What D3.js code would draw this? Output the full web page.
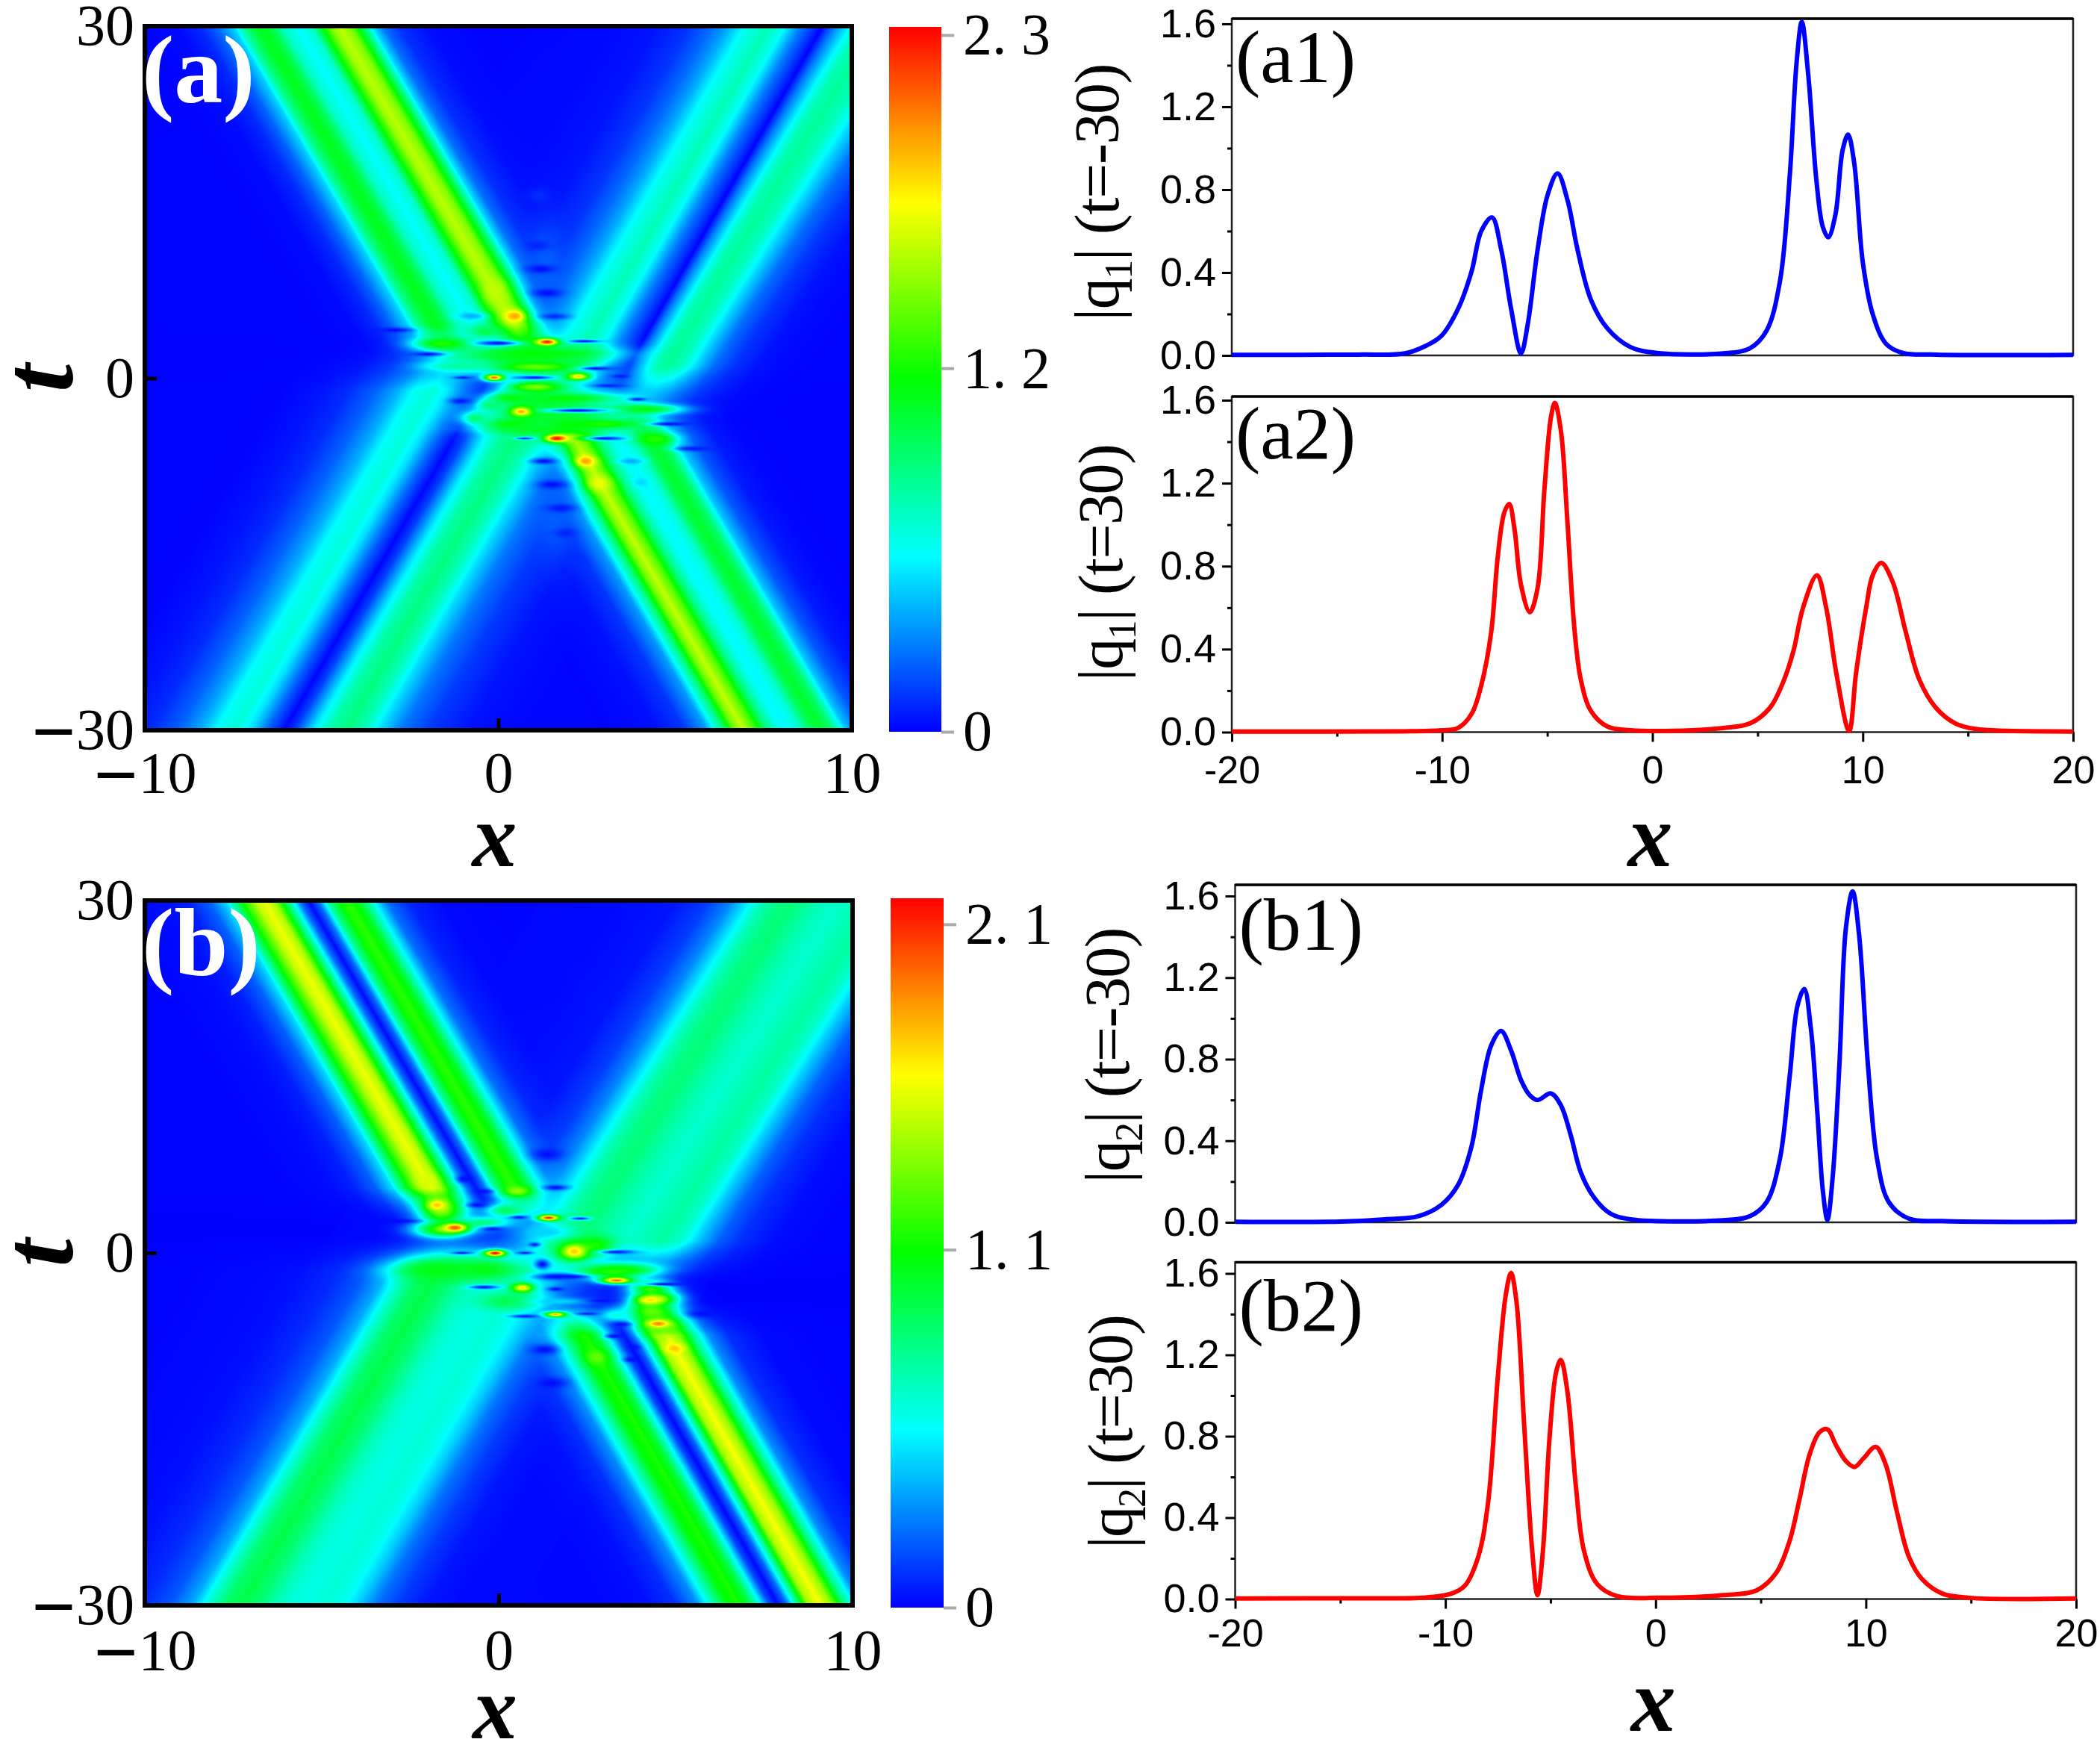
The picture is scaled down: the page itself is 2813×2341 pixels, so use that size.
<!DOCTYPE html>
<html>
<head>
<meta charset="utf-8">
<script src="https://cdn.jsdelivr.net/npm/d3@7"></script>
<style>
  body { margin: 0; background: #fff; }
  svg { display: block; }
</style>
</head>
<body>
<svg id="chart" width="2813" height="2341"></svg>
<script>
// line profiles: [x, |q|]
const a1Curve = [[-20,.003],[-14,.004],[-11.77,.01],[-10.8,.045],[-10.03,.095],[-9.24,.225],[-8.6,.405],[-8.14,.6],[-7.63,.666],[-7.19,.51],[-6.72,.225],[-6.25,.01],[-5.93,.15],[-5.46,.51],[-4.98,.776],[-4.51,.878],[-4.04,.75],[-3.56,.51],[-2.93,.27],[-2.14,.13],[-1.04,.04],[.22,.012],[3.37,.01],[4.64,.035],[5.43,.12],[6.06,.357],[6.53,.87],[6.85,1.41],[7.1,1.61],[7.41,1.35],[7.79,.85],[8.1,.62],[8.36,.57],[8.7,.68],[9.04,.99],[9.3,1.066],[9.59,.93],[10,.45],[10.47,.2],[11.1,.057],[11.9,.012],[13.5,.004],[20,.003]];
const a2Curve = [[-20,.003],[-12,.004],[-10.03,.009],[-9.24,.02],[-8.6,.088],[-8.14,.225],[-7.67,.48],[-7.35,.85],[-7.04,1.06],[-6.81,1.1],[-6.56,.98],[-6.25,.71],[-5.83,.578],[-5.46,.695],[-5.14,1.165],[-4.83,1.515],[-4.64,1.587],[-4.35,1.45],[-4.04,1.01],[-3.72,.51],[-3.41,.255],[-2.93,.103],[-2.14,.027],[-1.04,.009],[1,.006],[3.37,.02],[4.64,.042],[5.59,.118],[6.21,.24],[6.7,.39],[7.16,.6],[7.82,.756],[8.26,.6],[8.74,.285],[9.35,.005],[9.68,.285],[10.16,.6],[10.47,.756],[10.88,.816],[11.42,.725],[12.05,.48],[12.68,.255],[13.47,.118],[14.4,.042],[15.36,.015],[16.9,.006],[20,.003]];
const b1Curve = [[-20,.003],[-15,.004],[-12.87,.015],[-11.3,.03],[-10.19,.086],[-9.4,.183],[-8.77,.367],[-8.3,.648],[-7.82,.868],[-7.35,.938],[-6.88,.844],[-6.4,.697],[-5.99,.624],[-5.62,.6],[-4.98,.632],[-4.51,.575],[-4.04,.428],[-3.56,.245],[-2.93,.122],[-2.15,.043],[-1.2,.015],[3.2,.01],[4.48,.03],[5.27,.098],[5.9,.306],[6.37,.71],[6.75,1.064],[7.07,1.144],[7.38,.954],[7.7,.526],[7.95,.159],[8.17,.012],[8.42,.22],[8.74,.77],[9.05,1.443],[9.37,1.623],[9.68,1.407],[10.1,.77],[10.54,.306],[11.1,.098],[12.05,.018],[13.6,.006],[20,.003]];
const b2Curve = [[-20,.003],[-13,.004],[-11.1,.006],[-9.7,.027],[-9.07,.066],[-8.44,.207],[-7.97,.474],[-7.5,1.1],[-7.13,1.493],[-6.88,1.603],[-6.62,1.462],[-6.25,.85],[-5.87,.238],[-5.62,.019],[-5.36,.238],[-5.05,.787],[-4.73,1.117],[-4.51,1.175],[-4.2,1.023],[-3.79,.552],[-3.41,.238],[-2.78,.074],[-1.83,.014],[.06,.006],[3.2,.019],[4.8,.042],[5.74,.129],[6.37,.285],[6.84,.489],[7.32,.709],[7.79,.819],[8.17,.834],[8.58,.756],[9.05,.678],[9.46,.649],[9.9,.693],[10.47,.748],[10.94,.662],[11.48,.427],[12.05,.207],[12.68,.097],[13.63,.027],[14.9,.006],[20,.003]];

// soliton arms of the density plots: profile, source x range, [t, x offset] along the arm,
// and the two t values between which the arm dies out towards the centre
// squeeze: the outer lobe of an arm narrows on its way to the centre, [t, factor] around a pivot
const aArms = [
  {curve: a2Curve, src: [-20, 1], track: [[30, .15], [0, 5.98]], fade: [0, 4.5]},
  {curve: a2Curve, src: [1, 9.35], track: [[30, -.17], [0, -5.87]], fade: [-1.5, 1.5]},
  {curve: a2Curve, src: [9.35, 20], track: [[30, -.17], [0, -5.87]], fade: [-3.5, 1], pivot: 9.35, squeeze: [[30, 1], [0, 1.4]]},
  {curve: a1Curve, src: [-20, .5], track: [[-30, .19], [0, 5.98]], fade: [3, -1]},
  {curve: a1Curve, src: [.5, 20], track: [[-30, -.15], [0, -5.95]], fade: [-.5, -5]}
];
const bArms = [
  {curve: b2Curve, src: [-20, 1], track: [[30, .24], [0, 6.04]], fade: [2.5, 5.5]},
  {curve: b2Curve, src: [1, 20], track: [[30, .2], [0, -6.05]], fade: [-2.5, 1]},
  {curve: b1Curve, src: [-20, .5], track: [[-30, .1], [0, 5.95]], fade: [1.5, -1.5]},
  {curve: b1Curve, src: [.5, 20], track: [[-30, -.27], [0, -5.93]], fade: [-4, -7]}
];

// interaction region of (a): [x, t, value, half width in x, half width in t]
const aPlates = [[1.35,9,.22,.5,4],[1.6,-11,.22,.5,4],[.7,1.5,1.05,1.9,1.3],[1.7,-3,1.05,2,1.7],[-1.56,2.94,1.25,.8,.5],[1.03,2.1,1.15,2,.6],[1.03,.94,1.4,1,.35],[-1.07,1.04,.8,1,.4],[1.03,-.75,1.45,.7,.4],[.33,-1.7,1.15,.6,.5],[2.08,-1.7,1.15,1.2,.4],[4.18,-2.64,1.15,1,.4],[.33,-3.9,1.15,.7,.4],[3,-3.9,1.25,1,.4],[1.38,-4.4,1.1,1.5,.3],[4.46,-5.17,1.25,.5,.5],[-.37,4,1,.5,.6],[-.65,-3.4,.9,.4,.6],[-.23,-2.3,.9,.4,.5]];
const aDips = [[-.75,5.3,.4,.4,.3],[1.59,5.26,.1,.4,.25],[0,2.98,.03,.6,.2],[2.43,3.15,.05,.45,.15],[-2.92,4.1,.03,.5,.2],[-1.98,2.05,.03,.5,.18],[-1,.05,.05,.25,.12],[1.03,.05,.03,.55,.16],[2.78,.83,.05,.5,.16],[3.45,.16,.05,.22,.14],[3.13,-.64,.08,.45,.15],[-1.07,-1.95,.05,.3,.25],[2.22,-2.75,.03,.9,.18],[3.94,-1.8,.05,.25,.15],[4.81,-3.9,.03,.55,.16],[.75,-5.13,.1,.3,.12],[3,-5.13,.03,.55,.16],[5.5,-6,.05,.5,.2],[1.28,-7.07,.03,.35,.25],[3.76,-7.07,.4,.35,.25],[1.52,-9.07,.03,.4,.35],[1.77,-11.07,.05,.4,.35],[4.04,-8.86,.5,.22,.35],[4.46,-10.97,.6,.22,.35],[1.2,9.3,.03,.4,.35],[1.38,7.26,.03,.4,.35],[1.13,11.3,.08,.35,.4],[1.13,15.6,.1,.3,.5],[1.9,-13.2,.08,.3,.4],[2.1,-15.3,.1,.3,.4]];
const aPeaks = [[.47,5.3,1.95,.28,.5],[1.38,3.09,2.27,.32,.3],[-.12,.05,2.1,.28,.28],[2.26,.14,1.85,.32,.3],[.65,-2.85,1.95,.28,.38],[1.65,-5.13,2.3,.33,.32],[2.47,-7.07,1.95,.28,.45],[2.85,-8.96,1.7,.32,.6],[-.09,7.36,1.6,.3,1]];

// interaction region of (b)
const bPlates = [[-1.6,3.5,1.3,.6,1.2],[.2,3.6,.9,.6,.6],[-.4,2.6,.8,.8,.5],[-1.57,1.98,1.25,.8,.7],[-1.77,-1.39,1.05,1.2,.9],[-.38,-1.39,1.05,1,1],[.32,-4.1,.95,.9,.7],[3.47,-1.4,1,1,.5],[2.77,.7,1.1,.5,.8],[2.14,.12,1.3,.55,.9],[3.2,-1.6,1.15,1,.6],[4.3,-3,1.2,.6,.7],[4.5,-3.9,1.3,.6,.6],[4.3,-5,1.3,.7,.9],[4.6,-6.2,1.3,.6,.9],[1.37,1.77,.45,.7,.6],[1.72,-4.13,.45,.9,.3],[3.3,-5.3,.6,.5,.6]];
const bDips = [[.57,3.03,.05,.25,.15],[2.31,2.93,.05,.3,.14],[-.17,2.04,.05,.3,.18],[1.02,.71,.05,.16,.18],[-1.04,0,.05,.3,.12],[.74,0,.05,.22,.12],[3.33,.08,.05,.5,.17],[1.23,-.97,.03,.22,.45],[1.58,-2.02,.03,.6,.28],[2.07,-2.02,.03,.5,.17],[1.61,-3.08,.03,.22,.17],[-.41,-2.91,.03,.42,.17],[2.91,-4.07,.03,.38,.17],[.74,-5.39,.05,.42,.14],[2.49,-5.18,.05,.3,.12],[3.47,-6.07,.03,.27,.22],[3.26,-7.08,.03,.27,.2],[3.82,-8.02,.03,.17,.22],[3.75,-9.08,.03,.22,.22],[-.41,5.24,.03,.27,.2],[-.62,4.08,.03,.27,.22],[-.97,6.29,.03,.22,.32],[1.61,5.56,.03,.35,.22],[1.37,8.4,.03,.42,.5],[1.3,-8.23,.03,.38,.42],[1.51,-11.08,.03,.42,.45],[-2.82,2.71,.02,.6,.17],[4.65,-2.66,.02,.6,.16],[5.77,-5.18,.03,.45,.3]];
const bPeaks = [[-1.23,2.15,2,.33,.36],[1.41,2.99,2.1,.3,.25],[-.1,-.02,2.18,.3,.27],[2.14,.12,1.75,.28,.5],[3.33,-2.34,1.95,.45,.28],[.67,-2.97,1.7,.3,.37],[4.27,-4.02,1.7,.4,.42],[1.61,-5.24,1.8,.3,.22],[4.51,-6.02,1.9,.3,.3],[4.97,-8.13,1.75,.25,.35],[-1.74,4.08,1.75,.3,.5],[-2.05,6.08,1.55,.3,.6],[.53,5.24,1.4,.35,.37],[2.77,-8.87,1.3,.3,.6]];

// axes and colour bars
const heatXTicks = [-10, 0, 10];
const heatTTicks = [-30, 0, 30];
const aBarTicks = [0, 1.2, 2.3];
const aBarLabels = ["0", "1. 2", "2. 3"];
const bBarTicks = [0, 1.1, 2.1];
const bBarLabels = ["0", "1. 1", "2. 1"];
const jetColors = ["#0000ff", "#00ffff", "#00ff00", "#ffff00", "#ff0000"];
const lineXMajor = [-20, -10, 0, 10, 20];
const lineXMinor = [-15, -5, 5, 15];
const lineYMajor = [0, .4, .8, 1.2, 1.6];
const lineYMinor = [.2, .6, 1, 1.4];

const svg = d3.select("#chart");
const SERIF = "'Liberation Serif', serif";
const SANS = "'Liberation Sans', sans-serif";

function jetScale(vmax) {
  return d3.scaleLinear()
    .domain(jetColors.map((c, i) => vmax * i / 4))
    .range(jetColors)
    .clamp(true);
}

// the minus signs of the density plots are long and heavy
// a tspan's dy replaces the dy of its text, so the axis offset moves onto the tspan
function bigMinus(sel) {
  sel.each(function() {
    const label = d3.select(this);
    const s = label.text();
    if (s[0] === "\u2212") {
      const base = parseFloat(label.attr("dy")) * 78;
      label.attr("dy", null).html('<tspan font-weight="bold" font-size="105" dy="' + (base + 12) + '">\u2212</tspan><tspan dy="-12">' + s.slice(1) + '</tspan>');
    }
  });
}

// paint the density field into a canvas, value by value, then colour it
function paintField(xScale, tScale, arms, plates, dips, peaks, color) {
  const w = Math.round(xScale.range()[1] - xScale.range()[0]);
  const h = Math.round(tScale.range()[0] - tScale.range()[1]);
  const canvas = document.createElement("canvas");
  canvas.width = w;
  canvas.height = h;
  const ctx = canvas.getContext("2d");
  const img = ctx.createImageData(w, h);

  const lut = arms.map(arm => {
    const p = d3.scaleLinear().domain(arm.curve.map(d => d[0])).range(arm.curve.map(d => d[1])).clamp(true);
    const out = new Float32Array(4001);
    for (let i = 0; i <= 4000; i++) {
      const sx = -20 + i / 100;
      out[i] = (sx >= arm.src[0] && sx < arm.src[1]) ? p(sx) : 0;
    }
    return out;
  });
  const tracks = arms.map(arm => d3.scaleLinear().domain(arm.track.map(d => d[0])).range(arm.track.map(d => d[1])));
  const squeezes = arms.map(arm => arm.squeeze ? d3.scaleLinear().domain(arm.squeeze.map(d => d[0])).range(arm.squeeze.map(d => d[1])).clamp(true) : null);
  const fades = arms.map(arm => d3.scaleLinear().domain(arm.fade).range([0, 1]).clamp(true));
  const colorLut = d3.range(1025).map(i => d3.rgb(color(i / 1024 * color.domain()[4])));
  const vmax = color.domain()[4];
  const spots = plates.concat(dips, peaks);
  const x0 = xScale.range()[0], top = tScale.range()[1];

  for (let r = 0; r < h; r++) {
    const t = tScale.invert(top + r + .5);
    const shifts = tracks.map(s => s(t));
    const factors = squeezes.map(s => s ? s(t) : 1);
    const weights = fades.map(s => s(t));
    const near = spots.filter(s => Math.abs(t - s[1]) < 3 * s[4]);
    for (let c = 0; c < w; c++) {
      const x = xScale.invert(x0 + c + .5);
      let sum = 0;
      for (let k = 0; k < arms.length; k++) {
        if (weights[k] === 0) continue;
        let sx = x - shifts[k];
        if (arms[k].pivot !== undefined) sx = arms[k].pivot + (sx - arms[k].pivot) * factors[k];
        const idx = Math.round((sx + 20) * 100);
        if (idx < 0 || idx > 4000) continue;
        const a = weights[k] * lut[k][idx];
        sum += a * a;
      }
      let v = Math.sqrt(sum);
      for (let k = 0; k < near.length; k++) {
        const s = near[k];
        const dx = (x - s[0]) / s[3];
        if (dx > 3 || dx < -3) continue;
        const dt = (t - s[1]) / s[4];
        v += (s[2] - v) * Math.exp(-(dx * dx + dt * dt));
      }
      const col = colorLut[Math.max(0, Math.min(1024, Math.round(v / vmax * 1024)))];
      const o = (r * w + c) * 4;
      img.data[o] = col.r;
      img.data[o + 1] = col.g;
      img.data[o + 2] = col.b;
      img.data[o + 3] = 255;
    }
  }
  ctx.putImageData(img, 0, 0);
  return canvas.toDataURL();
}

function heatPanel(o) {
  const x = d3.scaleLinear().domain([-10, 10]).range([o.left, o.right]);
  const t = d3.scaleLinear().domain([-30, 30]).range([o.bottom, o.top]);
  const color = jetScale(o.vmax);

  svg.append("image")
    .attr("x", o.left).attr("y", o.top)
    .attr("width", o.right - o.left).attr("height", o.bottom - o.top)
    .attr("preserveAspectRatio", "none")
    .attr("href", paintField(x, t, o.arms, o.plates, o.dips, o.peaks, color));

  svg.append("rect")
    .attr("x", o.left).attr("y", o.top)
    .attr("width", o.right - o.left).attr("height", o.bottom - o.top)
    .attr("fill", "none").attr("stroke", "#000").attr("stroke-width", 6);

  const xAxis = svg.append("g")
    .attr("transform", "translate(0," + o.bottom + ")")
    .call(d3.axisBottom(x).tickValues(heatXTicks).tickSize(-16).tickPadding(o.xPad)
      .tickFormat(d => d < 0 ? "\u2212" + (-d) : d));
  const yAxis = svg.append("g")
    .attr("transform", "translate(" + o.left + ",0)")
    .call(d3.axisLeft(t).tickValues(heatTTicks).tickSize(-16).tickPadding(14)
      .tickFormat(d => d < 0 ? "\u2212" + (-d) : d));
  [xAxis, yAxis].forEach(a => {
    a.select(".domain").remove();
    a.selectAll("line").attr("stroke", "#000").attr("stroke-width", 5);
    a.selectAll("text").attr("fill", "#000").attr("font-family", SERIF).attr("font-size", 78).call(bigMinus);
  });

  // colour bar
  const bar = d3.scaleLinear().domain([0, o.vmax]).range([o.barBottom, o.barTop]);
  const gradId = "grad" + o.label.replace(/\W/g, "");
  const grad = svg.append("defs").append("linearGradient").attr("id", gradId)
    .attr("x1", 0).attr("x2", 0).attr("y1", 1).attr("y2", 0);
  grad.selectAll("stop").data(jetColors).enter().append("stop")
    .attr("offset", (d, i) => i / 4)
    .attr("stop-color", d => d);
  svg.append("rect")
    .attr("x", o.barLeft).attr("y", o.barTop)
    .attr("width", o.barRight - o.barLeft).attr("height", o.barBottom - o.barTop)
    .attr("fill", "url(#" + gradId + ")");
  const barAxis = svg.append("g")
    .attr("transform", "translate(" + o.barRight + ",0)")
    .call(d3.axisRight(bar).tickValues(o.barTicks).tickSize(17).tickPadding(12)
      .tickFormat((d, i) => o.barLabels[i]));
  barAxis.select(".domain").remove();
  barAxis.selectAll("line").attr("stroke", "#aaa").attr("stroke-width", 4);
  barAxis.selectAll("text").attr("fill", "#000").attr("font-family", SERIF).attr("font-size", 78);

  svg.append("text").attr("x", o.left - 4).attr("y", o.labelY)
    .attr("font-family", SERIF).attr("font-weight", "bold").attr("font-size", 130)
    .attr("fill", "#fff").text(o.label);
  svg.append("text").attr("x", (o.left + o.right) / 2 - 5).attr("y", o.xLabelY)
    .attr("text-anchor", "middle")
    .attr("font-family", SERIF).attr("font-weight", "bold").attr("font-style", "italic").attr("font-size", 120)
    .text("x");
  svg.append("text")
    .attr("transform", "translate(96," + ((o.top + o.bottom) / 2) + ") rotate(-90)")
    .attr("text-anchor", "middle")
    .attr("font-family", SERIF).attr("font-weight", "bold").attr("font-style", "italic").attr("font-size", 135)
    .text("t");
}

function linePanel(o) {
  const x = d3.scaleLinear().domain([-20, 20]).range([o.left, o.right]);
  const y = d3.scaleLinear().domain([0, o.ymax]).range([o.bottom, o.top]);

  svg.append("rect")
    .attr("x", o.left).attr("y", o.top)
    .attr("width", o.right - o.left).attr("height", o.bottom - o.top)
    .attr("fill", "none").attr("stroke", "#222").attr("stroke-width", 2.5);
  svg.append("line")
    .attr("x1", o.left).attr("x2", o.right).attr("y1", o.top).attr("y2", o.top)
    .attr("stroke", "#000").attr("stroke-width", 3.5);

  const yAxis = svg.append("g").attr("transform", "translate(" + o.left + ",0)")
    .call(d3.axisLeft(y).tickValues(lineYMajor).tickSize(13).tickPadding(8).tickFormat(d3.format(".1f")));
  const yMinor = svg.append("g").attr("transform", "translate(" + o.left + ",0)")
    .call(d3.axisLeft(y).tickValues(lineYMinor).tickSize(6).tickFormat(""));
  const axes = [yAxis, yMinor];
  if (o.showX) {
    const xAxis = svg.append("g").attr("transform", "translate(0," + o.bottom + ")")
      .call(d3.axisBottom(x).tickValues(lineXMajor).tickSize(13).tickPadding(o.xPad));
    const xMinor = svg.append("g").attr("transform", "translate(0," + o.bottom + ")")
      .call(d3.axisBottom(x).tickValues(lineXMinor).tickSize(6).tickFormat(""));
    axes.push(xAxis, xMinor);
    xAxis.selectAll("text").text(d => d).attr("font-size", 52);
  }
  axes.forEach(a => {
    a.select(".domain").remove();
    a.selectAll("line").attr("stroke", "#000").attr("stroke-width", 3);
    a.selectAll("text").attr("fill", "#000").attr("font-family", SANS);
  });
  yAxis.selectAll("text").attr("font-size", 54);

  const line = d3.line().x(d => x(d[0])).y(d => y(d[1])).curve(d3.curveCatmullRom.alpha(.5));
  svg.append("path").datum(o.curve)
    .attr("d", line)
    .attr("fill", "none").attr("stroke", o.color).attr("stroke-width", 6).attr("stroke-linejoin", "round");

  svg.append("text").attr("x", o.left + 5).attr("y", o.labelY)
    .attr("font-family", SERIF).attr("font-size", 100).text(o.label);

  const yl = svg.append("text")
    .attr("transform", "translate(" + o.ylX + "," + o.ylY + ") rotate(-90)")
    .attr("text-anchor", "middle")
    .attr("font-family", SERIF).attr("font-size", 84)
    .attr("textLength", o.ylLen).attr("lengthAdjust", "spacing");
  yl.append("tspan").text("|q");
  yl.append("tspan").attr("dy", 18).attr("font-size", 52).text(o.sub);
  yl.append("tspan").attr("dy", -18).text("| (t=" + o.when + ")");

  if (o.showX) {
    svg.append("text").attr("x", (o.left + o.right) / 2 - 3).attr("y", o.xLabelY)
      .attr("text-anchor", "middle")
      .attr("font-family", SERIF).attr("font-weight", "bold").attr("font-style", "italic").attr("font-size", 120)
      .text("x");
  }
}

heatPanel({label: "(a)", labelY: 137, left: 194, right: 1141, top: 35, bottom: 978, xPad: 28, xLabelY: 1160,
  vmax: 2.327, arms: aArms, plates: aPlates, dips: aDips, peaks: aPeaks,
  barLeft: 1191, barRight: 1261, barTop: 36, barBottom: 980, barTicks: aBarTicks, barLabels: aBarLabels});
heatPanel({label: "(b)", labelY: 1306, left: 194, right: 1142, top: 1206, bottom: 2150, xPad: 31, xLabelY: 2328,
  vmax: 2.18, arms: bArms, plates: bPlates, dips: bDips, peaks: bPeaks,
  barLeft: 1193, barRight: 1264, barTop: 1203, barBottom: 2153, barTicks: bBarTicks, barLabels: bBarLabels});

linePanel({label: "(a1)", labelY: 110, left: 1650, right: 2777, top: 25, bottom: 476, ymax: 1.625, curve: a1Curve, color: "#0000ff",
  sub: "1", when: "-30", ylX: 1498, ylY: 257, ylLen: 345, showX: false});
linePanel({label: "(a2)", labelY: 614, left: 1650, right: 2777, top: 531, bottom: 980.5, ymax: 1.618, curve: a2Curve, color: "#ff0000",
  sub: "1", when: "30", ylX: 1503, ylY: 753, ylLen: 318, showX: true, xPad: 19, xLabelY: 1160});
linePanel({label: "(b1)", labelY: 1272, left: 1654.5, right: 2781, top: 1185, bottom: 1637, ymax: 1.655, curve: b1Curve, color: "#0000ff",
  sub: "2", when: "-30", ylX: 1512, ylY: 1413, ylLen: 343, showX: false});
linePanel({label: "(b2)", labelY: 1782, left: 1654.5, right: 2781, top: 1690.5, bottom: 2141.5, ymax: 1.655, curve: b2Curve, color: "#ff0000",
  sub: "2", when: "30", ylX: 1516, ylY: 1917, ylLen: 314, showX: true, xPad: 14, xLabelY: 2318});
</script>
</body>
</html>
